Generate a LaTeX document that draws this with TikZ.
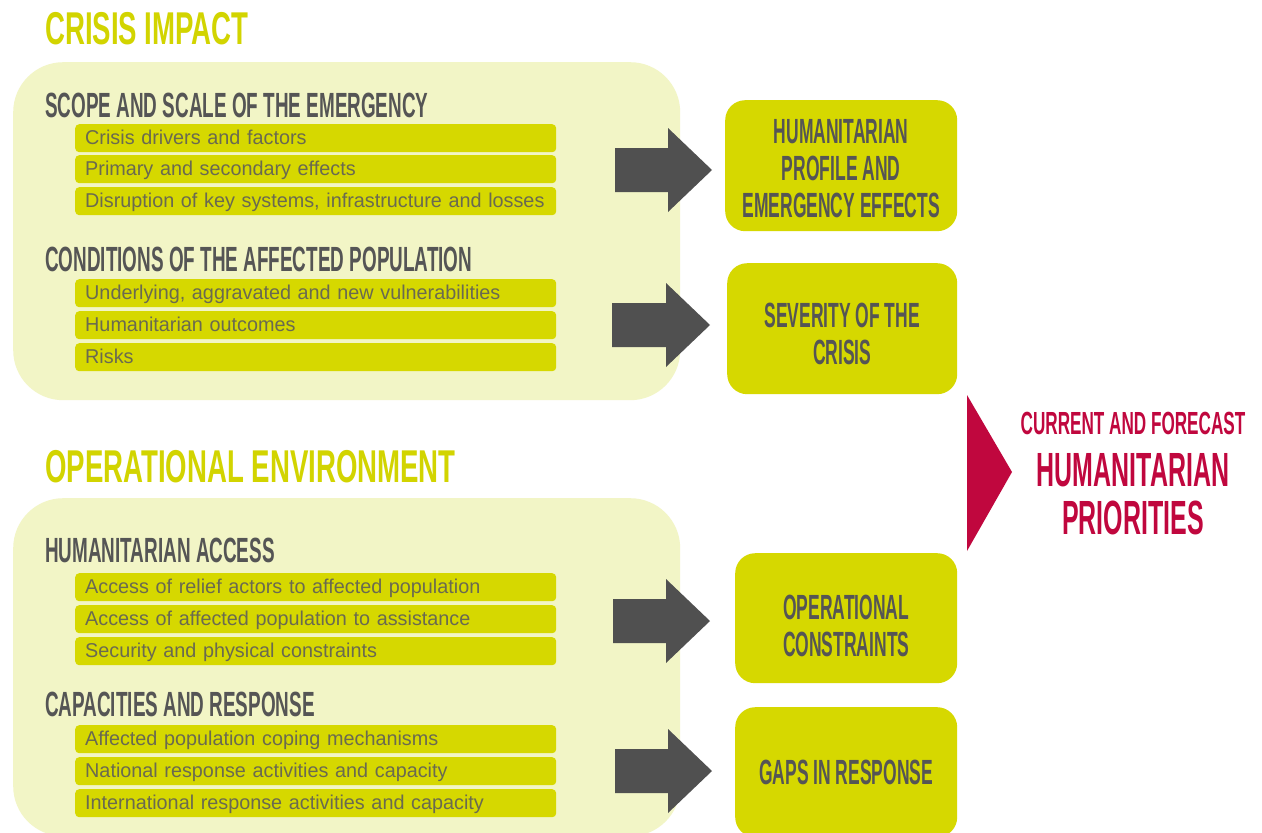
\documentclass[tikz,border=0pt]{standalone}
\usepackage{fontspec}
\setmainfont{Liberation Sans}
\newfontfamily\titlefont[FakeStretch=0.6]{Liberation Sans Bold}
\newfontfamily\headfont[FakeStretch=0.54]{Liberation Sans Bold}
\newfontfamily\boxfont[FakeStretch=0.5]{Liberation Sans Bold}
\newfontfamily\redfont[FakeStretch=0.52]{Liberation Sans Bold}
\newfontfamily\barfont[FakeStretch=0.99]{Liberation Sans}
\definecolor{panelc}{HTML}{F2F5C6}
\definecolor{barc}{HTML}{D6D800}
\definecolor{titlec}{HTML}{D2D400}
\definecolor{greyc}{HTML}{555555}
\definecolor{bartext}{HTML}{6A6A50}
\definecolor{arrowc}{HTML}{505050}
\definecolor{redc}{HTML}{C0073E}
\tikzset{
  panel/.style={fill=panelc, rounded corners=50pt, minimum width=667pt, minimum height=338pt, inner sep=0pt, anchor=north west},
  bar/.style={fill=barc, rounded corners=4pt, minimum width=481pt, minimum height=28pt, text width=461pt, inner xsep=10pt, inner ysep=0pt, align=left, anchor=north west, text height=15pt, text depth=2pt, font=\barfont\fontsize{20}{24}\selectfont, text=bartext},
  bigtitle/.style={anchor=base west, inner sep=0pt, text=titlec, font=\titlefont\fontsize{46}{50}\selectfont},
  subhead/.style={anchor=base west, inner sep=0pt, text=greyc, font=\headfont\fontsize{35}{40}\selectfont},
  resbox/.style={fill=barc, rounded corners=20pt, inner sep=0pt, anchor=north west, text=greyc},
  boxtext/.style={inner sep=0pt, align=center, text=greyc, font=\boxfont\fontsize{35}{37}\selectfont},
  redtext/.style={anchor=base, inner sep=0pt, text=redc},
}
\newcommand\grarrow[3]{\fill[arrowc] (#1,#2-22) -- (#3-44,#2-22) -- (#3-44,#2-42) -- (#3,#2) -- (#3-44,#2+42) -- (#3-44,#2+22) -- (#1,#2+22) -- cycle;}
\begin{document}
\begin{tikzpicture}[x=1pt,y=-1pt]
\useasboundingbox (0,0) rectangle (1262,833);
\fill[white] (0,0) rectangle (1262,833);

% panels
\node[panel] (p1) at (13,62) {};
\node[panel] (p2) at (13,498) {};

% titles
\node[bigtitle] (t1) at (45,44) {CRISIS IMPACT};
\node[bigtitle] (t2) at (45,482) {OPERATIONAL ENVIRONMENT};

% crisis impact
\node[subhead] (h1) at (45,117) {SCOPE AND SCALE OF THE EMERGENCY};
\node[bar] (s1) at (75,124) {Crisis drivers and factors};
\node[bar] (s2) at (75,155) {Primary and secondary effects};
\node[bar] (s3) at (75,187) {\mbox{Disruption of key systems, infrastructure and losses}};
\node[subhead] (h2) at (45,271) {CONDITIONS OF THE AFFECTED POPULATION};
\node[bar] (c1) at (75,279) {Underlying, aggravated and new vulnerabilities};
\node[bar] (c2) at (75,311) {Humanitarian outcomes};
\node[bar] (c3) at (75,343) {Risks};

% operational environment
\node[subhead] (h3) at (45,562) {HUMANITARIAN ACCESS};
\node[bar] (a1) at (75,573) {Access of relief actors to affected population};
\node[bar] (a2) at (75,605) {Access of affected population to assistance};
\node[bar] (a3) at (75,637) {Security and physical constraints};
\node[subhead] (h4) at (45,716) {CAPACITIES AND RESPONSE};
\node[bar] (r1) at (75,725) {Affected population coping mechanisms};
\node[bar] (r2) at (75,757) {National response activities and capacity};
\node[bar] (r3) at (75,789) {International response activities and capacity};

% result boxes
\node[resbox, minimum width=232pt, minimum height=131pt] (b1) at (725,100) {};
\node[boxtext] (b1t) at ([yshift=-3pt]b1.center) {HUMANITARIAN\\PROFILE AND\\EMERGENCY EFFECTS};
\node[resbox, minimum width=230pt, minimum height=131pt] (b2) at (727,263) {};
\node[boxtext] (b2t) at ([yshift=-5pt]b2.center) {SEVERITY OF THE\\CRISIS};
\node[resbox, minimum width=222pt, minimum height=130pt] (b3) at (735,553) {};
\node[boxtext] (b3t) at ([yshift=-8pt]b3.center) {OPERATIONAL\\CONSTRAINTS};
\node[resbox, minimum width=222pt, minimum height=130pt] (b4) at (735,707) {};
\node[boxtext] (b4t) at (b4.center) {GAPS IN RESPONSE};

% grey arrows
\grarrow{615}{170}{712}
\grarrow{612}{325}{710}
\grarrow{613}{621}{710}
\grarrow{615}{771}{712}

% red triangle and priorities
\fill[redc] (967,395) -- (1012,472) -- (967,551) -- cycle;
\node[redtext, font=\redfont\fontsize{32}{34}\selectfont, xscale=1.03] (q1) at (1133,434) {CURRENT AND FORECAST};
\node[redtext, font=\redfont\fontsize{48}{52}\selectfont] (q2) at (1133,486) {HUMANITARIAN};
\node[redtext, font=\redfont\fontsize{48}{52}\selectfont] (q3) at (1133,534) {PRIORITIES};
\end{tikzpicture}
\end{document}
